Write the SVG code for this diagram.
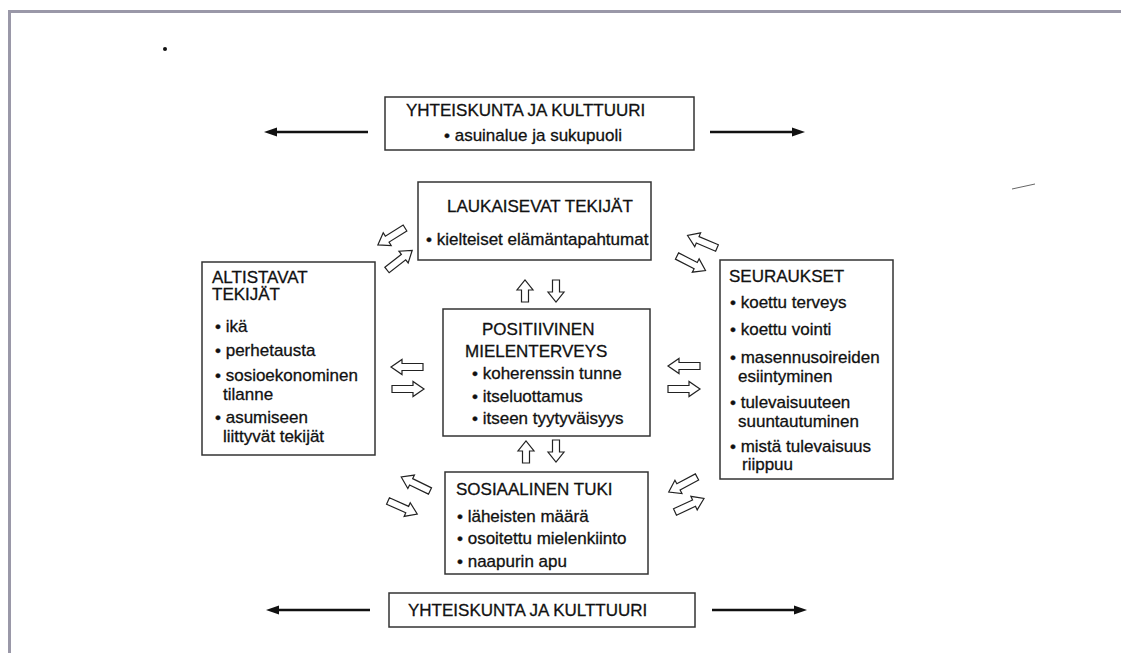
<svg xmlns="http://www.w3.org/2000/svg" width="1121" height="653" viewBox="0 0 1121 653">
<style>
.box{fill:#fff;stroke:#333;stroke-width:1.5}
text{font-family:"Liberation Sans",Arial,sans-serif;font-size:17px;fill:#111;stroke:#111;stroke-width:0.3}
.ho{fill:#fff;stroke:#222;stroke-width:1.2;stroke-linejoin:miter}
.bl{stroke:#111;stroke-width:2.6;fill:none}
.hd{fill:#111}
</style>
<defs>
<path id="ha" class="ho" d="M0,-3.5 H21 V-7.5 L32,0 L21,7.5 V3.5 H0 Z"/>
<path id="va" class="ho" d="M0,-3.5 H12 V-8 L22,0 L12,8 V3.5 H0 Z"/>
</defs>
<rect width="1121" height="653" fill="#fff"/>
<g id="frame">
<line x1="8" y1="11.5" x2="1121" y2="11.5" stroke="#9a98a8" stroke-width="3"/>
<line x1="9.5" y1="10" x2="9.5" y2="653" stroke="#9a98a8" stroke-width="3"/>
<circle cx="165" cy="49" r="2" fill="#111"/>
<line x1="1012" y1="189" x2="1035" y2="184" stroke="#666" stroke-width="1"/>
</g>
<g id="top-society">
<rect class="box" x="385" y="97" width="309" height="53"/>
<text x="406" y="116">YHTEISKUNTA JA KULTTUURI</text>
<text x="444" y="141">• asuinalue ja sukupuoli</text>
</g>
<g id="triggering">
<rect class="box" x="418" y="182" width="233" height="78"/>
<text x="447" y="212">LAUKAISEVAT TEKIJÄT</text>
<text x="426" y="245">• kielteiset elämäntapahtumat</text>
</g>
<g id="predisposing">
<rect class="box" x="202" y="262" width="173" height="193"/>
<text x="212" y="283">ALTISTAVAT</text>
<text x="212" y="300">TEKIJÄT</text>
<text x="215" y="332">• ikä</text>
<text x="215" y="356">• perhetausta</text>
<text x="215" y="381">• sosioekonominen</text>
<text x="223" y="400">tilanne</text>
<text x="215" y="423">• asumiseen</text>
<text x="223" y="442">liittyvät tekijät</text>
</g>
<g id="positive">
<rect class="box" x="443" y="309" width="207" height="127"/>
<text x="482" y="335">POSITIIVINEN</text>
<text x="465" y="357">MIELENTERVEYS</text>
<text x="472" y="379">• koherenssin tunne</text>
<text x="472" y="402">• itseluottamus</text>
<text x="472" y="424">• itseen tyytyväisyys</text>
</g>
<g id="consequences">
<rect class="box" x="720" y="260" width="173" height="219"/>
<text x="729" y="282">SEURAUKSET</text>
<text x="730" y="308">• koettu terveys</text>
<text x="730" y="335">• koettu vointi</text>
<text x="730" y="363">• masennusoireiden</text>
<text x="738" y="382">esiintyminen</text>
<text x="730" y="408">• tulevaisuuteen</text>
<text x="738" y="427">suuntautuminen</text>
<text x="730" y="452">• mistä tulevaisuus</text>
<text x="742" y="470">riippuu</text>
</g>
<g id="social">
<rect class="box" x="445" y="472" width="203" height="102"/>
<text x="456" y="495">SOSIAALINEN TUKI</text>
<text x="457" y="522">• läheisten määrä</text>
<text x="457" y="544">• osoitettu mielenkiinto</text>
<text x="457" y="567">• naapurin apu</text>
</g>
<g id="bottom-society">
<rect class="box" x="389" y="593" width="306" height="34"/>
<text x="408" y="616">YHTEISKUNTA JA KULTTUURI</text>
</g>
<g id="connectors">
<line class="bl" x1="274" y1="132" x2="368" y2="132"/>
<path class="hd" d="M264,132 L277,127.5 L277,136.5 Z"/>
<line class="bl" x1="710" y1="132" x2="794" y2="132"/>
<path class="hd" d="M805,132 L792,127.5 L792,136.5 Z"/>
<line class="bl" x1="276" y1="610" x2="370" y2="610"/>
<path class="hd" d="M266,610 L279,605.5 L279,614.5 Z"/>
<line class="bl" x1="712" y1="610" x2="796" y2="610"/>
<path class="hd" d="M807,610 L794,605.5 L794,614.5 Z"/>
<use href="#ha" transform="translate(423,367) rotate(180)"/>
<use href="#ha" transform="translate(392,389)"/>
<use href="#ha" transform="translate(700,366) rotate(180)"/>
<use href="#ha" transform="translate(668,389)"/>
<use href="#va" transform="translate(525,302) rotate(-90)"/>
<use href="#va" transform="translate(556,280) rotate(90)"/>
<use href="#va" transform="translate(526,463) rotate(-90)"/>
<use href="#va" transform="translate(556,440) rotate(90)"/>
<use href="#ha" transform="translate(405,228) rotate(148)"/>
<use href="#ha" transform="translate(387,270) rotate(-38)"/>
<use href="#ha" transform="translate(717,248) rotate(-157)"/>
<use href="#ha" transform="translate(677,256) rotate(27)"/>
<use href="#ha" transform="translate(430,491) rotate(-154)"/>
<use href="#ha" transform="translate(388,501) rotate(24)"/>
<use href="#ha" transform="translate(697,477) rotate(152)"/>
<use href="#ha" transform="translate(675,512) rotate(-25)"/>
</g>
</svg>
